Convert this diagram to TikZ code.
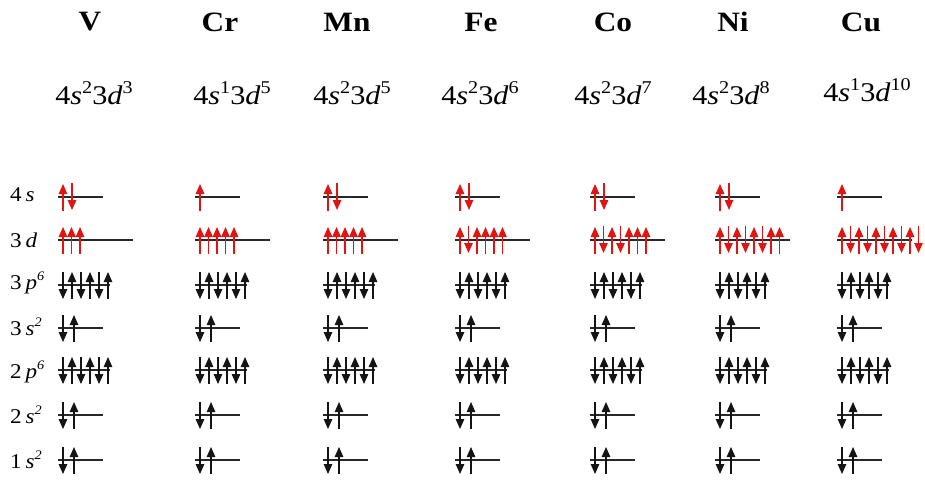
\documentclass[tikz,border=0pt]{standalone}
\usepackage{fontspec}
\setmainfont{Liberation Serif}
\usetikzlibrary{arrows.meta}
\definecolor{ered}{RGB}{225,20,20}
\definecolor{eblk}{RGB}{20,20,20}
\definecolor{lvlc}{RGB}{40,40,40}
\newcommand\sps[1]{\raisebox{0.42em}{\fontsize{18}{18}\selectfont #1}}
\newcommand\lsp[1]{\raisebox{0.45em}{\fontsize{13}{13}\selectfont\itshape #1}}
\tikzset{
  lvl/.style={lvlc, line width=1.3pt},
  spin/.style={line width=1.2pt, -{Triangle[width=8.5pt,length=10pt]}},
  redspin/.style={spin, ered},
  blkspin/.style={spin, eblk},
  elem/.style={font=\fontsize{28}{30}\selectfont\bfseries, inner sep=0pt},
  conf/.style={font=\fontsize{27}{30}\selectfont, inner sep=0pt},
  rowlab/.style={font=\fontsize{21}{24}\selectfont, inner sep=0pt, anchor=west},
}
\begin{document}
\begin{tikzpicture}[x=1pt,y=-1pt]
\useasboundingbox (0,0) rectangle (925,485);
% headers
\node[elem] (hV)  at (90,22)  {\scalebox{1.12}[1]{V}};
\node[elem] (hCr) at (220,22) {\scalebox{1.12}[1]{Cr}};
\node[elem] (hMn) at (347,22) {\scalebox{1.12}[1]{Mn}};
\node[elem] (hFe) at (481,22) {\scalebox{1.12}[1]{Fe}};
\node[elem] (hCo) at (613,22) {\scalebox{1.12}[1]{Co}};
\node[elem] (hNi) at (733,22) {\scalebox{1.12}[1]{Ni}};
\node[elem] (hCu) at (861,22) {\scalebox{1.12}[1]{Cu}};
% configurations
\node[conf] (cV)  at (94,93)  {\scalebox{1.12}[1]{4\textit{s}\sps{2}3\textit{d}\sps{3}}};
\node[conf] (cCr) at (232,93) {\scalebox{1.12}[1]{4\textit{s}\sps{1}3\textit{d}\sps{5}}};
\node[conf] (cMn) at (352,93) {\scalebox{1.12}[1]{4\textit{s}\sps{2}3\textit{d}\sps{5}}};
\node[conf] (cFe) at (480,93) {\scalebox{1.12}[1]{4\textit{s}\sps{2}3\textit{d}\sps{6}}};
\node[conf] (cCo) at (613,93) {\scalebox{1.12}[1]{4\textit{s}\sps{2}3\textit{d}\sps{7}}};
\node[conf] (cNi) at (731,93) {\scalebox{1.12}[1]{4\textit{s}\sps{2}3\textit{d}\sps{8}}};
\node[conf] (cCu) at (867,90) {\scalebox{1.12}[1]{4\textit{s}\sps{1}3\textit{d}\sps{10}}};
% row labels
\node[rowlab] (l4s) at (10,195) {\scalebox{1.1}[1]{4\,\textit{s}}};
\node[rowlab] (l3d) at (10,240) {\scalebox{1.1}[1]{3\,\textit{d}}};
\node[rowlab] (l3p) at (10,283) {\scalebox{1.1}[1]{3\,\textit{p}\lsp{6}}};
\node[rowlab] (l3s) at (10,327) {\scalebox{1.1}[1]{3\,\textit{s}\lsp{2}}};
\node[rowlab] (l2p) at (10,372) {\scalebox{1.1}[1]{2\,\textit{p}\lsp{6}}};
\node[rowlab] (l2s) at (10,415) {\scalebox{1.1}[1]{2\,\textit{s}\lsp{2}}};
\node[rowlab] (l1s) at (10,460) {\scalebox{1.1}[1]{1\,\textit{s}\lsp{2}}};
% columns
\foreach \b/\ss/\dd in {
  58/{1,-1}/{1,1,1},
  195/{1}/{1,1,1,1,1},
  323/{1,-1}/{1,1,1,1,1},
  455/{1,-1}/{1,-1,1,1,1,1},
  590/{1,-1}/{1,-1,1,-1,1,1,1},
  715/{1,-1}/{1,-1,1,-1,1,-1,1,1},
  837/{1}/{1,-1,1,-1,1,-1,1,-1,1,-1}} {
  % black inner shells: s levels
  \foreach \L in {328,415,460} {
    \draw[lvl] (\b,\L) -- (\b+45,\L);
    \draw[blkspin] (\b+5,\L-13) -- (\b+5,\L+14);
    \draw[blkspin] (\b+16,\L+14) -- (\b+16,\L-13);
  }
  % black p levels
  \foreach \L in {285,370} {
    \draw[lvl] (\b,\L) -- (\b+52,\L);
    \foreach \k in {0,2,4} {
      \draw[blkspin] (\b+5+9*\k,\L-13) -- (\b+5+9*\k,\L+14);
      \draw[blkspin] (\b+14+9*\k,\L+14) -- (\b+14+9*\k,\L-13);
    }
  }
  % 4s
  \draw[lvl] (\b,197) -- (\b+45,197);
  \foreach \t [count=\k from 0] in \ss {
    \draw[redspin] (\b+5+9*\k,197+14*\t) -- (\b+5+9*\k,197-13*\t);
  }
  % 3d
  \draw[lvl] (\b,240) -- (\b+75,240);
  \foreach \t [count=\k from 0] in \dd {
    \draw[redspin] (\b+5+8.5*\k,240+14*\t) -- (\b+5+8.5*\k,240-13*\t);
  }
}
\end{tikzpicture}
\end{document}
